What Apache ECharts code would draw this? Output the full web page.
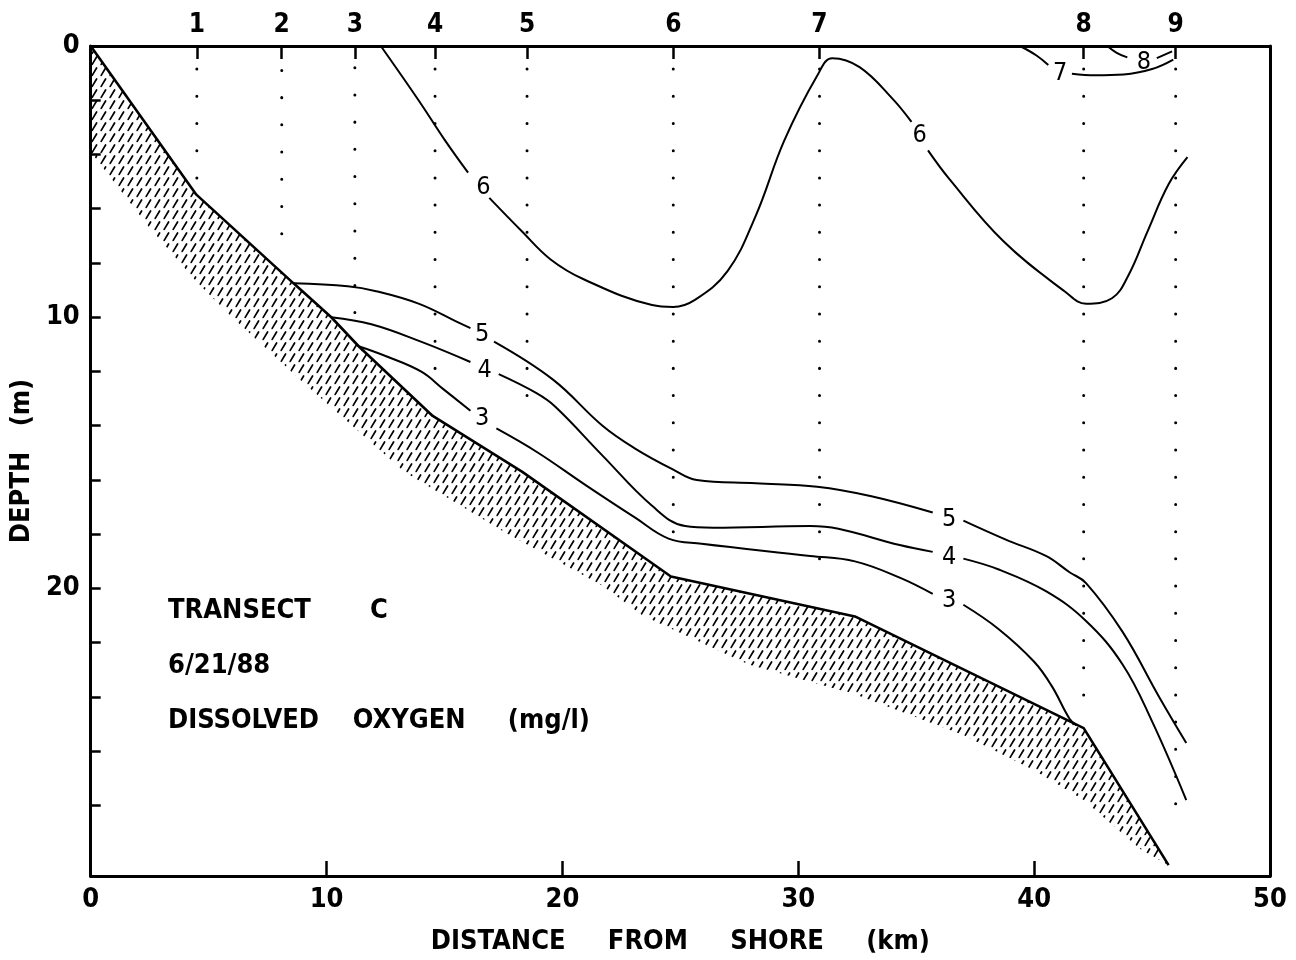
<!DOCTYPE html>
<html><head><meta charset="utf-8">
<script src="https://cdn.jsdelivr.net/npm/echarts@6/dist/echarts.min.js"></script>
<style>html,body{margin:0;padding:0;background:#fff}#c{width:1296px;height:960px}</style>
</head><body><div id="c"></div>
<script>
// ---- data (km from shore, depth m) ----
const xTickValues = [0, 10, 20, 30, 40, 50];
const yLabelValues = [0, 10, 20, 30];
const stationNames = ['1','2','3','4','5','6','7','8','9'];
const stationKm = [4.5, 8.1, 11.2, 14.6, 18.5, 24.7, 30.9, 42.1, 46.0];
const stationFirstDot = [0.85, 0.9, 0.8, 0.85, 0.85, 0.85, 0.85, 0.85, 0.85];
const stationLastDot = [4.9, 7.9, 9.9, 12.8, 13.8, 18.7, 19.6, 24.7, 28.6];

const bottomProfile = [[0,0],[4.48,5.48],[8.6,8.75],[10.2,10.0],[11.36,11.07],[14.5,13.64],[18.3,15.7],[24.6,19.56],[32.4,21.03],[42.1,25.15],[45.7,30.2]];
const hatchLower = [[0,3.9],[2.4,6.6],[4.5,8.7],[6.0,10.0],[9.0,12.4],[13.3,15.7],[17.5,17.9],[21.7,19.9],[23.4,21.0],[27.9,22.8],[32.4,23.9],[37.0,25.4],[40.0,26.7],[42.1,27.8],[44.5,29.6],[45.7,30.2]];

const contour3 = [
  [[11.36,11.07],[12.5,11.43],[14.0,12.0],[14.95,12.65],[16.1,13.45]],
  [[17.2,14.1],[18.9,14.96],[21.0,16.2],[23.1,17.4],[24.5,18.16],[25.9,18.35],[30.5,18.8],[32.4,19.0],[34.3,19.6],[35.7,20.2]],
  [[37.0,20.6],[38.5,21.5],[40.0,22.7],[40.75,23.6],[41.5,24.8],[41.8,25.05]]
];
const contour4 = [
  [[10.2,10.0],[11.9,10.26],[14.0,10.9],[16.1,11.65]],
  [[17.3,12.1],[18.9,12.8],[19.7,13.3],[21.7,15.1],[23.8,16.95],[25.2,17.7],[26.4,17.76],[30.5,17.7],[31.7,17.8],[34.3,18.4],[35.7,18.65]],
  [[37.0,18.9],[38.5,19.3],[40.5,20.1],[42.2,21.2],[43.75,22.8],[45.0,24.9],[46.45,27.8]]
];
const contour5 = [
  [[8.6,8.75],[10.9,8.86],[12.1,9.04],[13.9,9.5],[15.6,10.2],[16.1,10.4]],
  [[17.1,10.9],[19.6,12.3],[21.7,14.0],[23.1,14.85],[24.66,15.6],[25.7,16.0],[28.2,16.12],[30.8,16.25],[33.1,16.6],[35.7,17.2]],
  [[37.0,17.5],[38.8,18.2],[40.5,18.8],[41.5,19.4],[42.2,19.8],[43.75,21.6],[45.3,24.0],[46.45,25.7]]
];
const contour6 = [
  [[12.3,0],[13.9,2.0],[15.0,3.45],[16.0,4.67]],
  [[16.9,5.6],[18.3,6.85],[19.5,7.87],[20.9,8.6],[23.8,9.55],[24.7,9.62],[25.6,9.37],[27.0,8.3],[28.2,6.25],[29.4,3.5],[30.8,1.1],[31.44,0.45],[32.6,0.78],[34.0,1.95],[34.8,2.8]],
  [[35.5,3.85],[36.4,4.9],[38.7,7.2],[41.3,9.05],[42.2,9.5],[43.3,9.3],[44.0,8.45],[44.8,6.85],[45.7,5.1],[46.5,4.1]]
];
const contour7 = [
  [[39.4,0],[40.1,0.35],[40.6,0.7]],
  [[41.6,1.02],[42.6,1.08],[43.8,1.05],[45.0,0.85],[45.9,0.5]]
];
const contour8 = [
  [[43.1,0],[43.5,0.25],[43.95,0.42]],
  [[45.2,0.45],[45.85,0.2]]
];
const contourLabels = [
  [16.65,5.2,'6'],[35.15,3.3,'6'],[41.1,1.0,'7'],[44.65,0.62,'8'],
  [16.6,10.65,'5'],[36.4,17.45,'5'],
  [16.7,11.95,'4'],[36.4,18.85,'4'],
  [16.6,13.75,'3'],[36.4,20.45,'3']
];
const noteLines = ['TRANSECT       C', '6/21/88', 'DISSOLVED    OXYGEN     (mg/l)'];

// ---- styling ----
const FONT = "'Liberation Sans Narrow','DejaVu Sans Condensed','Liberation Sans',sans-serif";
const INK = '#000';

const pc = document.createElement('canvas');
pc.width = 9; pc.height = 11;
const pctx = pc.getContext('2d');
pctx.strokeStyle = INK; pctx.lineWidth = 1.7; pctx.lineCap = 'round';
pctx.beginPath(); pctx.moveTo(2.2, 9.4); pctx.lineTo(6.6, 2.0); pctx.stroke();

const series = [];

// hatched sediment band
series.push({
  type: 'custom', coordinateSystem: 'cartesian2d', data: [[0, 0]], silent: true, clip: true, z: 1,
  renderItem: function (params, api) {
    const pts = bottomProfile.map(p => api.coord(p)).concat(hatchLower.slice().reverse().map(p => api.coord(p)));
    return { type: 'polygon', shape: { points: pts }, style: { fill: { image: pc, repeat: 'repeat' }, stroke: null } };
  }
});
// bottom profile line
series.push({ type: 'line', data: bottomProfile, symbol: 'none', z: 3, lineStyle: { color: INK, width: 2.6 } });

// station dotted lines
stationKm.forEach((x, i) => {
  series.push({ type: 'line', data: [[x, stationFirstDot[i]], [x, stationLastDot[i]]], symbol: 'none', z: 2,
    lineStyle: { color: INK, width: 3, type: [0.01, 27.2], cap: 'round' } });
});

// contours
[contour3, contour4, contour5, contour6, contour7, contour8].forEach(c => {
  c.forEach(seg => {
    series.push({ type: 'line', data: seg, symbol: 'none', smooth: 0.4, z: 4,
      lineStyle: { color: INK, width: 2 } });
  });
});

// contour labels
series.push({
  type: 'scatter', symbolSize: 0, z: 5, itemStyle: { opacity: 1 },
  data: contourLabels.map(d => ({ value: [d[0], d[1]], name: d[2] })),
  label: { show: true, position: 'inside', formatter: p => p.name, color: INK, fontSize: 25, fontFamily: FONT }
});

const option = {
  animation: false,
  backgroundColor: '#fff',
  textStyle: { fontFamily: FONT, color: INK },
  grid: { left: 88, right: 26, top: 46, bottom: 82, show: false },
  xAxis: [
    { type: 'value', position: 'bottom', min: 0, max: 50, interval: 10,
      axisLine: { show: true, onZero: false, lineStyle: { color: INK, width: 3 } },
      axisTick: { show: true, inside: true, length: 15, lineStyle: { color: INK, width: 2.5 } },
      axisLabel: { color: INK, fontSize: 27, fontWeight: 'bold', fontFamily: FONT, margin: 10, customValues: xTickValues },
      splitLine: { show: false },
      name: 'DISTANCE     FROM     SHORE     (km)', nameLocation: 'middle', nameGap: 52,
      nameTextStyle: { color: INK, fontSize: 27, fontFamily: FONT, fontWeight: 'bold' } },
    { type: 'value', position: 'top', min: 0, max: 50,
      axisLine: { show: true, onZero: false, lineStyle: { color: INK, width: 3 } },
      axisTick: { show: true, inside: true, length: 13, customValues: stationKm, lineStyle: { color: INK, width: 2.5 } },
      axisLabel: { show: true, customValues: stationKm, margin: 8, color: INK, fontSize: 26, fontWeight: 'bold', fontFamily: FONT,
        formatter: v => { const i = stationKm.indexOf(v); return i >= 0 ? stationNames[i] : ''; } },
      splitLine: { show: false } }
  ],
  yAxis: [
    { type: 'value', inverse: true, position: 'left', min: 0, max: 30.6, interval: 2,
      axisLine: { show: true, onZero: false, lineStyle: { color: INK, width: 3 } },
      axisTick: { show: true, inside: true, length: 10, lineStyle: { color: INK, width: 2.5 } },
      axisLabel: { color: INK, fontSize: 27, fontWeight: 'bold', fontFamily: FONT, margin: 11, customValues: yLabelValues, showMaxLabel: false },
      splitLine: { show: false },
      name: 'DEPTH   (m)', nameLocation: 'middle', nameGap: 48, nameRotate: 90,
      nameTextStyle: { color: INK, fontSize: 27, fontFamily: FONT, fontWeight: 'bold' } },
    { type: 'value', inverse: true, position: 'right', min: 0, max: 30.6,
      axisLine: { show: true, onZero: false, lineStyle: { color: INK, width: 3 } },
      axisTick: { show: false }, axisLabel: { show: false }, splitLine: { show: false } }
  ],
  graphic: noteLines.map((t, i) => ({
    type: 'text', left: 168, top: 597 + i * 55,
    style: { text: t, fill: INK, font: 'bold 27px ' + FONT }
  })),
  series: series
};

const chart = echarts.init(document.getElementById('c'), null, { renderer: 'canvas' });
chart.setOption(option);
</script>
</body></html>
